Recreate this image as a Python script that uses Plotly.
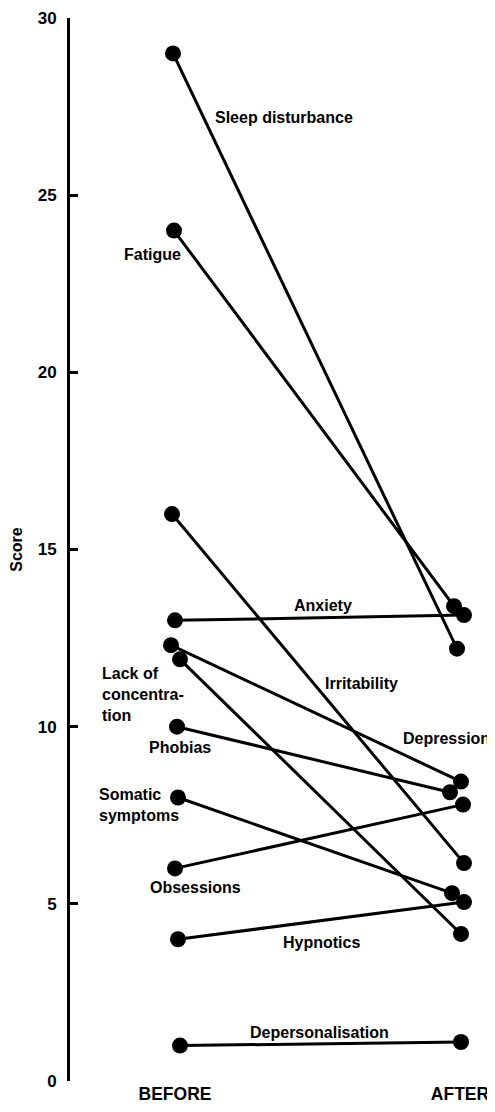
import plotly.graph_objects as go

# ---- data ----
symptoms = ["Sleep disturbance", "Fatigue", "Irritability", "Anxiety", "Depression",
            "Lack of concentration", "Phobias", "Somatic symptoms", "Obsessions",
            "Hypnotics", "Depersonalisation"]
before_scores = [29, 24, 16, 13, 12.3, 11.9, 10, 8, 6, 4, 1]
after_scores = [12.2, 13.4, 6.15, 13.15, 8.45, 4.15, 8.15, 5.3, 7.8, 5.05, 1.1]
phase_labels = ["BEFORE", "AFTER"]
y_ticks = [0, 5, 10, 15, 20, 25, 30]

# ---- style / layout helpers (page pixels; page body has an 8px margin) ----
PAGE_W, PAGE_H, OFF = 495, 1112, 8
PLOT_L, PLOT_R, PLOT_T, PLOT_B = 70, 495, 18, 1081     # plot area in page px
BEFORE_PX = 175
PX_PER_X = 285.0
W, H = PAGE_W - OFF, PAGE_H - 2 * OFF
ML, MR, MT = PLOT_L - OFF, PAGE_W - PLOT_R, PLOT_T - OFF
MB = (H + OFF) - PLOT_B
x_range = [-(BEFORE_PX - PLOT_L) / PX_PER_X, (PLOT_R - BEFORE_PX) / PX_PER_X]
PY_PER_Y = (PLOT_B - PLOT_T) / 30.0

# small horizontal nudges (px) so overlapping dots stay visible, as in the original
nudge_before_px = [-2, -1, -3, 0, -4, 5, 2, 3, 0, 3, 5]
nudge_after_px = [-3, -6, 4, 4, 1, 1, -10, -8, 3, 4, 1]

FONT = "Liberation Sans, Arial, Helvetica, sans-serif"
fig = go.Figure()
for i, name in enumerate(symptoms):
    fig.add_trace(go.Scatter(
        x=[0 + nudge_before_px[i] / PX_PER_X, 1 + nudge_after_px[i] / PX_PER_X],
        y=[before_scores[i], after_scores[i]],
        mode="lines+markers",
        name=name,
        line=dict(color="black", width=3),
        marker=dict(color="black", size=16),
        cliponaxis=False,
        showlegend=False,
    ))

# series labels: (text, left page-pixel x, center page-pixel y)
label_pos = [
    ("Sleep disturbance", 213, 117),
    ("Fatigue", 122, 254),
    ("Anxiety", 292, 605),
    ("Irritability", 323, 683),
    ("Depression", 401, 738),
    ("Lack of<br>concentra-<br>tion", 100, 694),
    ("Phobias", 147, 747),
    ("Somatic<br>symptoms", 97, 805),
    ("Obsessions", 148, 887),
    ("Hypnotics", 281, 942),
    ("Depersonalisation", 248, 1032),
]
for text, px, py in label_pos:
    fig.add_annotation(
        x=(px - BEFORE_PX) / PX_PER_X, y=(PLOT_B - py) / PY_PER_Y,
        xref="x", yref="y", text=text, showarrow=False,
        xanchor="left", yanchor="middle", align="left",
        font=dict(family=FONT, size=16, color="black", weight="bold"),
    )

fig.update_layout(
    width=W, height=H,
    margin=dict(l=ML, r=MR, t=MT, b=MB, autoexpand=False),
    paper_bgcolor="white", plot_bgcolor="white",
    font=dict(family=FONT, color="black", weight="bold"),
    xaxis=dict(range=x_range, tickvals=[0, 1], ticktext=phase_labels,
               showline=False, showgrid=False, zeroline=False, ticks="",
               tickfont=dict(size=17.5, weight="bold"), fixedrange=True),
    yaxis=dict(range=[0, 30], tickvals=y_ticks, ticks="inside", ticklen=8,
               tickwidth=3, tickcolor="black", showline=True, linewidth=3,
               linecolor="black", showgrid=False, zeroline=False,
               ticklabeloverflow="allow",
               tickfont=dict(size=17, weight="bold"), ticklabelstandoff=7,
               title=dict(text="Score", font=dict(size=16, weight="bold"), standoff=15)),
)

fig.write_html("out.html")
